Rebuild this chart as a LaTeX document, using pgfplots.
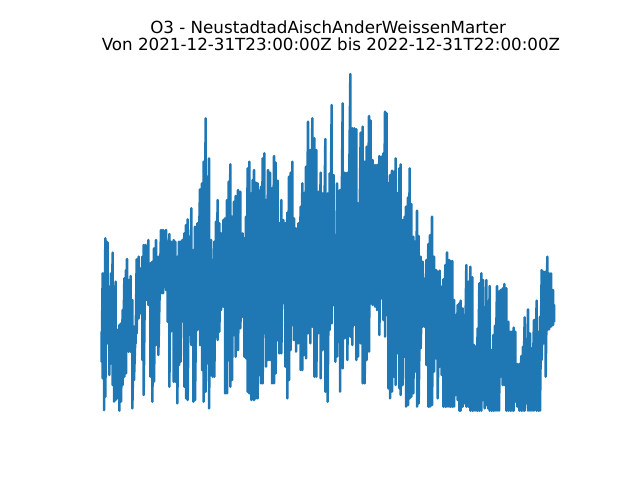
\documentclass[border=0pt]{standalone}
\usepackage{fontspec}
\setmainfont{DejaVu Sans}
\usepackage{pgfplots}
\pgfplotsset{compat=1.18}
\definecolor{tabblue}{HTML}{1F77B4}
\begin{document}
\begin{tikzpicture}
\path[use as bounding box] (0,0) rectangle (6.4in,4.8in);
% x and y are read off the picture, 3 units per pixel; the axis is hidden
\begin{axis}[
  at={(0.8in,0.528in)}, anchor=south west,
  scale only axis, width=4.96in, height=3.696in,
  xmin=-30, xmax=1458, ymin=-7.2, ymax=1101.6,
  y dir=reverse,
  axis lines=none, ticks=none,
  title={O3 - NeustadtadAischAnderWeissenMarter\hspace*{4.3bp}\\Von 2021-12-31T23:00:00Z bis 2022-12-31T22:00:00Z},
  title style={at={(0.5,1)}, anchor=south, yshift=-4.5bp, xshift=2.2bp, align=center,
    font=\fontsize{12.03bp}{12bp}\selectfont},
]
\addplot[tabblue, line width=1.8bp, line join=round, line cap=round, no markers] coordinates {
(35,815)(35,905)(38,640)(38,955)(42,640)(42,1050)(46,535)(46,1010)(50,545)(50,740)
(53,548)(53,850)(58,680)(58,945)(63,640)(63,910)(68,578)(68,975)(72,680)(72,1025)
(77,665)(77,1020)(82,810)(82,1015)(88,795)(88,1052)(93,790)(93,1025)(98,750)(98,975)
(103,655)(103,950)(108,630)(108,940)(111,597)(111,830)(116,660)(116,875)(122,648)(122,875)
(127,720)(127,1045)(132,800)(132,960)(137,800)(137,850)(140,598)(140,820)(146,590)(146,775)
(152,625)(152,760)(157,590)(157,900)(161,555)(161,1005)(166,555)(166,660)(170,570)(170,720)
(175,540)(175,735)(181,610)(181,950)(187,605)(187,1025)(192,565)(192,965)(198,540)(198,855)
(205,590)(205,885)(213,510)(213,700)(219,510)(219,700)(228,510)(228,690)(233,545)(233,785)
(238,522)(238,980)(243,545)(243,815)(251,540)(251,965)(256,545)(256,965)(262,590)(262,1030)
(267,545)(267,915)(272,545)(272,905)(277,540)(277,785)(283,520)(283,980)(288,495)(288,1015)
(293,478)(293,1020)(298,530)(298,825)(304,445)(304,855)(310,570)(310,1025)(315,500)(315,1020)
(322,490)(322,810)(330,388)(330,855)(336,370)(336,930)(341,305)(341,1025)(347,175)(347,995)
(352,350)(352,910)(357,295)(357,1045)(363,540)(363,945)(368,600)(368,950)(373,545)(373,950)
(378,485)(378,785)(383,420)(383,840)(388,490)(388,815)(393,520)(393,750)(400,480)(400,740)
(405,475)(405,1000)(411,420)(411,1000)(416,365)(416,900)(421,313)(421,980)(426,470)(426,960)
(432,425)(432,825)(437,408)(437,890)(444,390)(444,870)(451,395)(451,805)(458,520)(458,770)
(463,535)(463,890)(468,470)(468,895)(473,325)(473,995)(478,305)(478,1000)
(484,400)(484,1020)(488,360)(488,1015)(492,330)(492,1020)(498,368)(498,1015)(503,370)(503,1015)
(508,392)(508,945)(513,380)(513,970)(518,295)(518,970)(523,280)(523,820)(528,420)(528,920)
(534,330)(534,900)(540,338)(540,900)(546,385)(546,970)(552,288)(552,970)(557,308)(557,940)
(563,362)(563,840)(568,490)(568,880)(574,420)(574,880)(580,480)(580,730)(586,490)(586,920)
(592,458)(592,1015)(597,350)(597,960)(602,338)(602,870)(607,305)(607,795)(612,475)(612,840)
(618,505)(618,875)(625,490)(625,850)(632,440)(632,930)(637,370)(637,930)(642,400)(642,885)
(648,320)(648,895)(654,185)(654,820)(661,270)(661,850)(667,175)(667,800)(673,235)(673,950)
(679,270)(679,950)(685,395)(685,820)(692,338)(692,955)(698,400)(698,870)(706,237)(706,995)
(713,400)(713,1025)(719,340)(719,810)(725,135)(725,790)(731,345)(731,735)(736,525)(736,905)
(741,370)(741,890)(750,390)(750,995)(758,130)(758,925)(764,338)(764,835)(772,338)(772,900)
(781,42)(781,830)(787,205)(787,855)(793,205)(793,795)(799,208)(799,900)(804,430)(804,890)
(812,218)(812,850)(818,200)(818,970)(824,305)(824,970)(830,260)(830,900)(837,168)(837,875)
(842,182)(842,730)(848,300)(848,735)(855,315)(855,740)(861,315)(861,750)(868,288)(868,825)
(875,290)(875,715)(880,280)(880,780)(885,155)(885,830)(890,160)(890,765)(895,370)(895,985)
(900,345)(900,1015)(906,332)(906,995)(912,335)(912,950)(917,295)(917,975)(922,400)(922,880)
(928,325)(928,985)(932,313)(932,1005)(938,480)(938,975)(944,470)(944,890)(948,440)(948,1040)
(954,412)(954,1035)(959,325)(959,1015)(964,432)(964,1010)(970,530)(970,1000)(975,545)(975,935)
(981,452)(981,1040)(986,528)(986,1030)(992,590)(992,865)(998,605)(998,800)(1004,655)(1004,800)
(1009,600)(1009,915)(1015,552)(1015,1040)(1020,525)(1020,1040)(1026,470)(1026,1035)(1032,590)(1032,935)
(1038,630)(1038,895)(1043,635)(1043,1015)(1049,632)(1049,920)(1055,680)(1055,945)(1060,658)(1060,1040)
(1066,615)(1066,1040)(1071,577)(1071,1040)(1077,600)(1077,1040)(1082,603)(1082,1040)(1087,603)(1087,1040)
(1092,720)(1092,1040)(1097,765)(1097,1005)(1103,735)(1103,1020)(1108,730)(1108,1052)(1112,722)(1112,1052)
(1118,745)(1118,1040)(1123,765)(1123,1030)(1129,615)(1129,1040)(1135,665)(1135,1040)(1141,620)(1141,1052)
(1147,652)(1147,1052)(1152,855)(1152,1052)(1158,860)(1158,1052)(1163,805)(1163,1052)(1168,670)(1168,1052)
(1174,640)(1174,1052)(1179,660)(1179,1020)(1184,790)(1184,1045)(1189,660)(1189,1035)(1194,725)(1194,1045)
(1199,678)(1199,1052)(1205,870)(1205,1052)(1210,825)(1210,1052)(1215,797)(1215,1052)(1221,678)(1221,1052)
(1227,695)(1227,1052)(1232,690)(1232,950)(1238,685)(1238,975)(1243,672)(1243,975)(1249,685)(1249,1052)
(1255,785)(1255,1052)(1261,815)(1261,1052)(1266,815)(1266,1052)(1271,803)(1271,1052)(1276,815)(1276,1025)
(1282,912)(1282,1040)(1288,912)(1288,1052)(1294,888)(1294,1052)(1299,860)(1299,1052)(1304,772)(1304,1052)
(1309,880)(1309,1030)(1314,748)(1314,1052)(1320,820)(1320,1052)(1326,865)(1326,1052)(1332,780)(1332,1052)
(1340,722)(1340,1052)(1346,815)(1346,1052)(1350,770)(1350,1052)(1355,630)(1355,900)(1361,635)(1361,850)
(1367,635)(1367,950)(1372,590)(1372,810)(1377,640)(1377,808)(1383,640)(1383,800)(1389,690)(1389,795)
(1392,735)(1392,785)
};
\end{axis}
\end{tikzpicture}
\end{document}
